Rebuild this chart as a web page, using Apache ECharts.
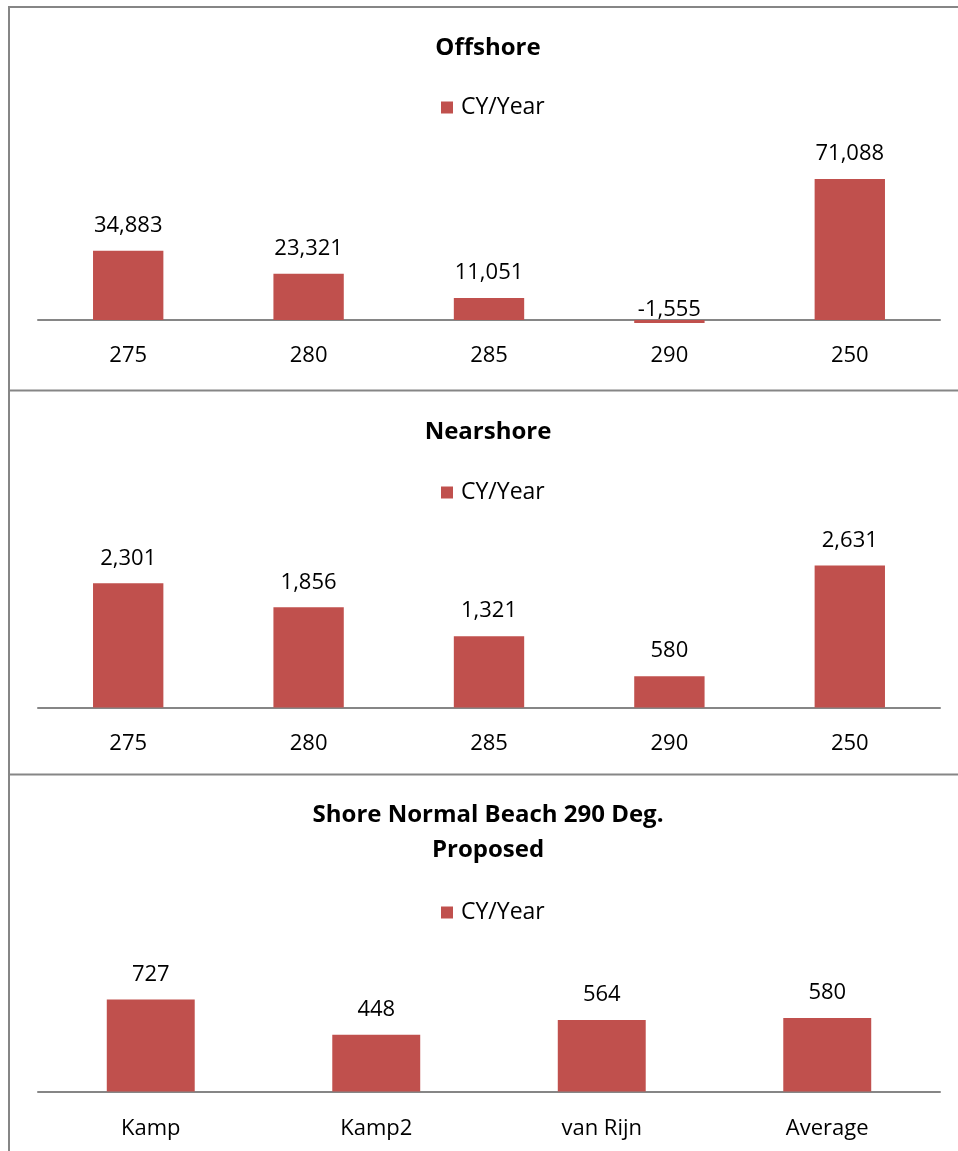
<!DOCTYPE html>
<html><head><meta charset="utf-8">
<script src="https://cdn.jsdelivr.net/npm/echarts@6/dist/echarts.min.js"></script>
<style>html,body{margin:0;padding:0;background:#fff}#c{width:958px;height:1151px}</style>
</head><body><div id="c"></div>
<script>
const seriesName = 'CY/Year';
const titles = ['Offshore', 'Nearshore', 'Shore Normal Beach 290 Deg.\nProposed'];
const offshoreCats = ['275', '280', '285', '290', '250'];
const offshoreVals = [34883, 23321, 11051, -1555, 71088];
const nearshoreCats = ['275', '280', '285', '290', '250'];
const nearshoreVals = [2301, 1856, 1321, 580, 2631];
const normalCats = ['Kamp', 'Kamp2', 'van Rijn', 'Average'];
const normalVals = [727, 448, 564, 580];

const FONT = 'Open Sans';
const BAR = '#C0504D';
const LINE = '#868686';

const panels = [
  {cats: offshoreCats, vals: offshoreVals, min: -2000, max: 80000, top: 161.3, height: 162.6, titleTop: 31, legendTop: 96, margin: 21},
  {cats: nearshoreCats, vals: nearshoreVals, min: 0, max: 3000, top: 545.5, height: 162, titleTop: 415, legendTop: 481, margin: 25},
  {cats: normalCats, vals: normalVals, min: 0, max: 900, top: 977.5, height: 113.9, titleTop: 798, legendTop: 901, margin: 26}
];

const fmt = v => v.toLocaleString('en-US');

const option = {
  animation: false,
  title: panels.map((p, i) => ({
    text: titles[i], left: 488, top: p.titleTop, textAlign: 'center', padding: 0,
    textStyle: {fontFamily: FONT, fontSize: 24, fontWeight: 'bold', color: '#000', lineHeight: 35}
  })),
  legend: panels.map(p => ({
    left: 441, top: p.legendTop, padding: 0, itemWidth: 12, itemHeight: 12, itemGap: 10,
    icon: 'rect', data: [seriesName],
    textStyle: {fontFamily: FONT, fontSize: 23, color: '#000', padding: [0, 0, 0, 3]}
  })),
  grid: panels.map(p => ({left: 38, right: 18, top: p.top, height: p.height})),
  xAxis: panels.map((p, i) => ({
    type: 'category', gridIndex: i, data: p.cats,
    axisTick: {show: false},
    axisLine: {onZero: true, lineStyle: {color: LINE, width: 2}},
    axisLabel: {fontFamily: FONT, fontSize: 22, color: '#000', margin: p.margin}
  })),
  yAxis: panels.map((p, i) => ({
    type: 'value', gridIndex: i, min: p.min, max: p.max, show: false, splitLine: {show: false}
  })),
  series: panels.map((p, i) => ({
    name: seriesName, type: 'bar', xAxisIndex: i, yAxisIndex: i,
    barWidth: '39%',
    itemStyle: {color: BAR},
    data: p.vals.map(v => v < 0 ? {value: v, label: {distance: -1}} : v),
    label: {
      show: true, position: 'top', distance: 14,
      fontFamily: FONT, fontSize: 22, color: '#000',
      formatter: d => fmt(d.value)
    }
  })),
  graphic: [
    {type: 'line', shape: {x1: 9, y1: 6, x2: 9, y2: 1151}, style: {stroke: LINE, lineWidth: 2}},
    {type: 'line', shape: {x1: 8, y1: 7, x2: 958, y2: 7}, style: {stroke: LINE, lineWidth: 2}},
    {type: 'line', shape: {x1: 8, y1: 390.5, x2: 958, y2: 390.5}, style: {stroke: LINE, lineWidth: 2}},
    {type: 'line', shape: {x1: 8, y1: 774.5, x2: 958, y2: 774.5}, style: {stroke: LINE, lineWidth: 2}}
  ]
};
echarts.init(document.getElementById('c'), null, {renderer: 'canvas'}).setOption(option);
</script></body></html>
